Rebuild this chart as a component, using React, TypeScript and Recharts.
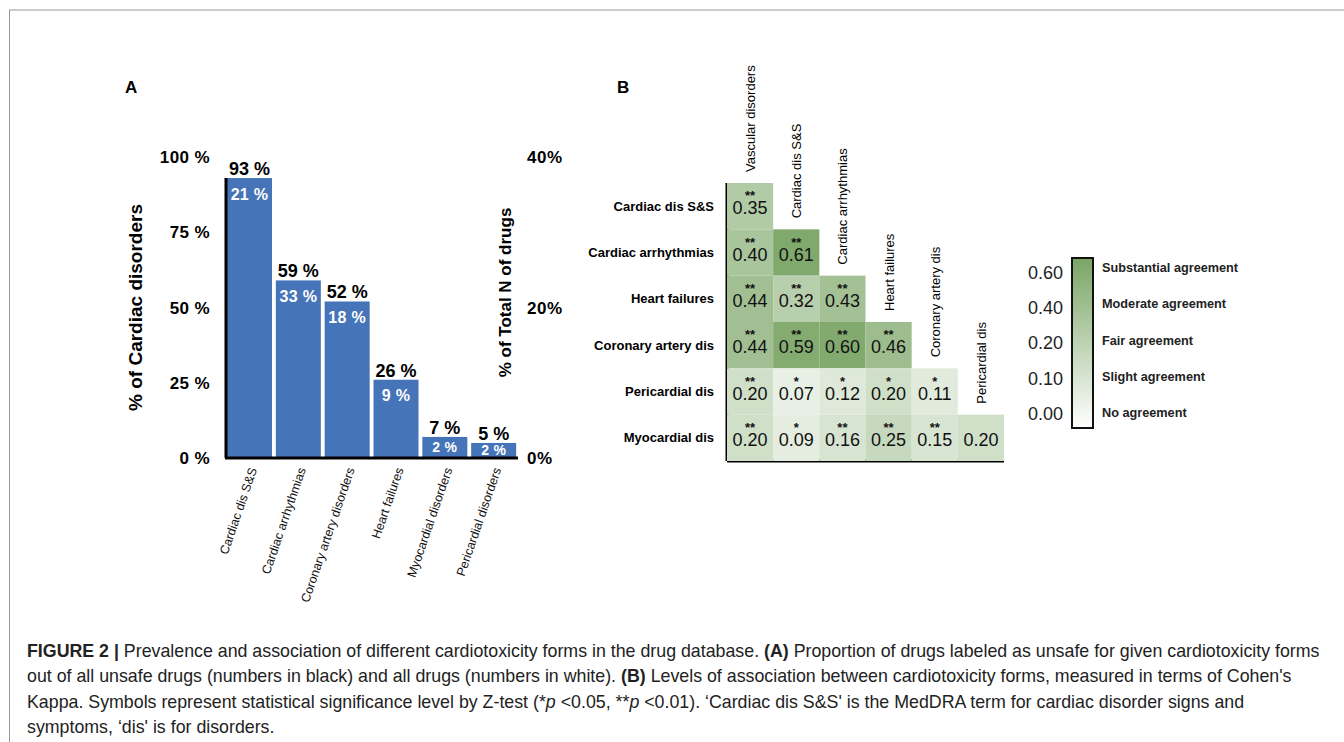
import React from 'react';
import { ComposedChart, Bar, Line, XAxis, YAxis, LabelList, ScatterChart, Scatter } from 'recharts';

// Panel A data
const disorders = [
  'Cardiac dis S&S',
  'Cardiac arrhythmias',
  'Coronary artery disorders',
  'Heart failures',
  'Myocardial disorders',
  'Pericardial disorders',
];
const pctOfCardiac = [93, 59, 52, 26, 7, 5];
const pctOfTotal = [21, 33, 18, 9, 2, 2];
const leftTicks = [0, 25, 50, 75, 100];
const rightTicks = [0, 20, 40];

// Panel B data (lower triangle, Cohen's kappa)
const kappaRows = ['Cardiac dis S&S', 'Cardiac arrhythmias', 'Heart failures', 'Coronary artery dis', 'Pericardial dis', 'Myocardial dis'];
const kappaCols = ['Vascular disorders', 'Cardiac dis S&S', 'Cardiac arrhythmias', 'Heart failures', 'Coronary artery dis', 'Pericardial dis'];
const kappaValues = [
  [0.35],
  [0.40, 0.61],
  [0.44, 0.32, 0.43],
  [0.44, 0.59, 0.60, 0.46],
  [0.20, 0.07, 0.12, 0.20, 0.11],
  [0.20, 0.09, 0.16, 0.25, 0.15, 0.20],
];
const kappaStars = [
  ['**'],
  ['**', '**'],
  ['**', '**', '**'],
  ['**', '**', '**', '**'],
  ['**', '*', '*', '*', '*'],
  ['**', '*', '**', '**', '**', ''],
];
const legendTicks = ['0.60', '0.40', '0.20', '0.10', '0.00'];
const legendLabels = ['Substantial agreement', 'Moderate agreement', 'Fair agreement', 'Slight agreement', 'No agreement'];

const FONT = '"Liberation Sans", Arial, Helvetica, sans-serif';
const BLUE = '#4674b8';

const barData = disorders.map((name, i) => ({ name, cardiac: pctOfCardiac[i], total: pctOfTotal[i] }));
const heatData = kappaValues.flatMap((row, r) =>
  row.map((value, c) => ({ row: r, col: c, value, stars: kappaStars[r][c] }))
);

// heatmap geometry
const HM = { w: 440, h: 440, top: 143, right: 16, bottom: 17, left: 0, yw: 147, xh: 2 };
const CELL_W = (HM.w - HM.left - HM.right - HM.yw) / kappaCols.length;
const CELL_H = (HM.h - HM.top - HM.bottom - HM.xh) / kappaRows.length;

const LIGHT = [246, 249, 244];
const DARK = [128, 169, 109];
const kappaColor = (v: number) => {
  const t = Math.min(v / 0.61, 1);
  const c = LIGHT.map((l, i) => Math.round(l + (DARK[i] - l) * t));
  return `rgb(${c[0]},${c[1]},${c[2]})`;
};

const AxisTitle = (props: any) => {
  const { viewBox, text, dx, dy = 0, size = 18 } = props;
  const cx = viewBox.x + dx;
  const cy = viewBox.y + viewBox.height / 2 + dy;
  return (
    <text
      transform={`translate(${cx},${cy}) rotate(-90)`}
      textAnchor="middle"
      dominantBaseline="central"
      fontSize={size}
      fontWeight="bold"
      fill="#000"
      fontFamily={FONT}
    >
      {text}
    </text>
  );
};

const SlantTick = (props: any) => {
  const { x, y, payload } = props;
  return (
    <text
      transform={`translate(${x + 4},${y + 2}) rotate(-71)`}
      textAnchor="end"
      dominantBaseline="central"
      fontSize={12.5}
      fill="#111"
      fontFamily={FONT}
    >
      {payload.value}
    </text>
  );
};

const BarShape = (props: any) => {
  const { x, y, width, height, index } = props;
  return (
    <g>
      <rect x={x} y={y} width={width} height={height} fill={BLUE} />
      {index === 0 && <line x1={x - 1} y1={y} x2={x - 1} y2={y + height} stroke="#000" strokeWidth={3} />}
    </g>
  );
};

// white "% of total" label: near the top of tall bars, centred in short ones
const InnerLabel = (props: any) => {
  const { x, y, width, height, value } = props;
  const small = height < 30;
  return (
    <text
      x={x + width / 2}
      y={small ? y + height / 2 : y + 16}
      textAnchor="middle"
      dominantBaseline="central"
      fill="#fff"
      fontSize={small ? 14 : 16}
      fontWeight="bold"
      letterSpacing={0.3}
      fontFamily={FONT}
    >
      {`${value} %`}
    </text>
  );
};

const HeatCell = (props: any) => {
  const { cx, cy, payload } = props;
  return (
    <g fontFamily={FONT}>
      <rect x={cx - CELL_W / 2} y={cy - CELL_H / 2} width={CELL_W} height={CELL_H} fill={kappaColor(payload.value)} />
      {payload.stars && (
        <text x={cx} y={cy - 6} textAnchor="middle" fontSize={13} fontWeight="bold" fill="#111">
          {payload.stars}
        </text>
      )}
      <text x={cx} y={cy + 8} textAnchor="middle" fontSize={18} fill="#111">
        {payload.value.toFixed(2)}
      </text>
      {payload.row === payload.col && (
        <text
          transform={`translate(${cx + 5},${cy - CELL_H / 2 - 11}) rotate(-90)`}
          fontSize={13}
          fill="#000"
        >
          {kappaCols[payload.col]}
        </text>
      )}
    </g>
  );
};

export default function App() {
  return (
    <div
      style={{
        position: 'absolute',
        left: 0,
        top: 0,
        width: 1344,
        height: 742,
        overflow: 'hidden',
        background: '#fff',
        fontFamily: FONT,
      }}
    >
      <div
        style={{
          position: 'absolute',
          left: 9,
          top: 9,
          width: 1340,
          height: 740,
          borderTop: '2px solid #cbcbcb',
          borderLeft: '1px solid #9a9a9a',
        }}
      />

      <svg width={1344} height={742} style={{ position: 'absolute', left: 0, top: 0 }} fontFamily={FONT}>
        <text x={125} y={93} fontSize={17} fontWeight="bold" fill="#000">A</text>
        <text x={617} y={93} fontSize={17} fontWeight="bold" fill="#000">B</text>

        <defs>
          <linearGradient id="kappaGrad" x1="0" y1="0" x2="0" y2="1">
            <stop offset="0%" stopColor="rgb(122,165,102)" />
            <stop offset="100%" stopColor="#ffffff" />
          </linearGradient>
        </defs>
        <rect x={1072} y={258} width={21} height={170} fill="url(#kappaGrad)" stroke="#111" strokeWidth={2} />
        {legendTicks.map((t, i) => (
          <text key={t} x={1063} y={273 + i * 35.2} textAnchor="end" dominantBaseline="central" fontSize={18} fill="#222">
            {t}
          </text>
        ))}
        {legendLabels.map((t, i) => (
          <text key={t} x={1102} y={268 + i * 36.3} dominantBaseline="central" fontSize={12.7} fontWeight="bold" fill="#222">
            {t}
          </text>
        ))}
      </svg>

      <div style={{ position: 'absolute', left: 100, top: 120 }}>
        <ComposedChart
          width={500}
          height={520}
          data={barData}
          margin={{ top: 37, right: 22, left: 65, bottom: 72 }}
          barCategoryGap={2}
        >
          <XAxis
            dataKey="name"
            height={110}
            interval={0}
            tickLine={false}
            axisLine={{ stroke: '#000', strokeWidth: 3 }}
            tick={<SlantTick />}
          />
          <YAxis
            yAxisId="left"
            width={60}
            domain={[0, 100]}
            ticks={leftTicks}
            tickLine={false}
            axisLine={false}
            tickMargin={9}
            tickFormatter={(v) => `${v} %`}
            tick={{ fill: '#000', fontSize: 17, fontWeight: 'bold', letterSpacing: 0.4 }}
            label={<AxisTitle text="% of Cardiac disorders" dx={-30} size={19} />}
          />
          <YAxis
            yAxisId="right"
            orientation="right"
            width={60}
            domain={[0, 40]}
            ticks={rightTicks}
            tickLine={false}
            axisLine={false}
            tickMargin={3}
            tickFormatter={(v) => `${v}%`}
            tick={{ fill: '#000', fontSize: 17, fontWeight: 'bold', letterSpacing: 0.6 }}
            label={<AxisTitle text="% of Total N of drugs" dx={-13} dy={-15} size={17} />}
          />
          <Bar yAxisId="left" dataKey="cardiac" fill={BLUE} shape={<BarShape />} isAnimationActive={false}>
            <LabelList
              dataKey="cardiac"
              position="top"
              offset={3}
              formatter={(v: any) => `${v} %`}
              fill="#000"
              fontSize={18}
              fontWeight="bold"
            />
            <LabelList dataKey="total" content={<InnerLabel />} />
          </Bar>
          {/* % of all drugs sits on the right axis; the values are shown as the white labels */}
          <Line
            yAxisId="right"
            dataKey="total"
            stroke="none"
            dot={false}
            activeDot={false}
            legendType="none"
            isAnimationActive={false}
          />
        </ComposedChart>
      </div>

      <div style={{ position: 'absolute', left: 580, top: 40 }}>
        <ScatterChart
          width={HM.w}
          height={HM.h}
          margin={{ top: HM.top, right: HM.right, bottom: HM.bottom, left: HM.left }}
        >
          <XAxis
            type="number"
            dataKey="col"
            domain={[-0.5, 5.5]}
            height={HM.xh}
            tick={false}
            tickLine={false}
            axisLine={{ stroke: '#000', strokeWidth: 3 }}
          />
          <YAxis
            type="number"
            dataKey="row"
            domain={[-0.5, 5.5]}
            reversed
            width={HM.yw}
            ticks={[0, 1, 2, 3, 4, 5]}
            interval={0}
            tickLine={false}
            tickMargin={7}
            axisLine={{ stroke: '#000', strokeWidth: 3 }}
            tickFormatter={(v) => kappaRows[v] ?? ''}
            tick={{ fill: '#000', fontSize: 13, fontWeight: 'bold' }}
          />
          <Scatter data={heatData} shape={<HeatCell />} isAnimationActive={false} />
        </ScatterChart>
      </div>

      <div
        style={{
          position: 'absolute',
          left: 27,
          top: 639,
          fontSize: 17.8,
          lineHeight: '25.3px',
          color: '#222',
          whiteSpace: 'nowrap',
        }}
      >
        <div>
          <b>FIGURE 2 |</b> Prevalence and association of different cardiotoxicity forms in the drug database. <b>(A)</b> Proportion of drugs labeled as unsafe for given cardiotoxicity forms
        </div>
        <div>
          out of all unsafe drugs (numbers in black) and all drugs (numbers in white). <b>(B)</b> Levels of association between cardiotoxicity forms, measured in terms of Cohen's
        </div>
        <div>
          Kappa. Symbols represent statistical significance level by Z-test (*<i>p</i> &lt;0.05, **<i>p</i> &lt;0.01). ‘Cardiac dis S&amp;S' is the MedDRA term for cardiac disorder signs and
        </div>
        <div>symptoms, ‘dis' is for disorders.</div>
      </div>
    </div>
  );
}
